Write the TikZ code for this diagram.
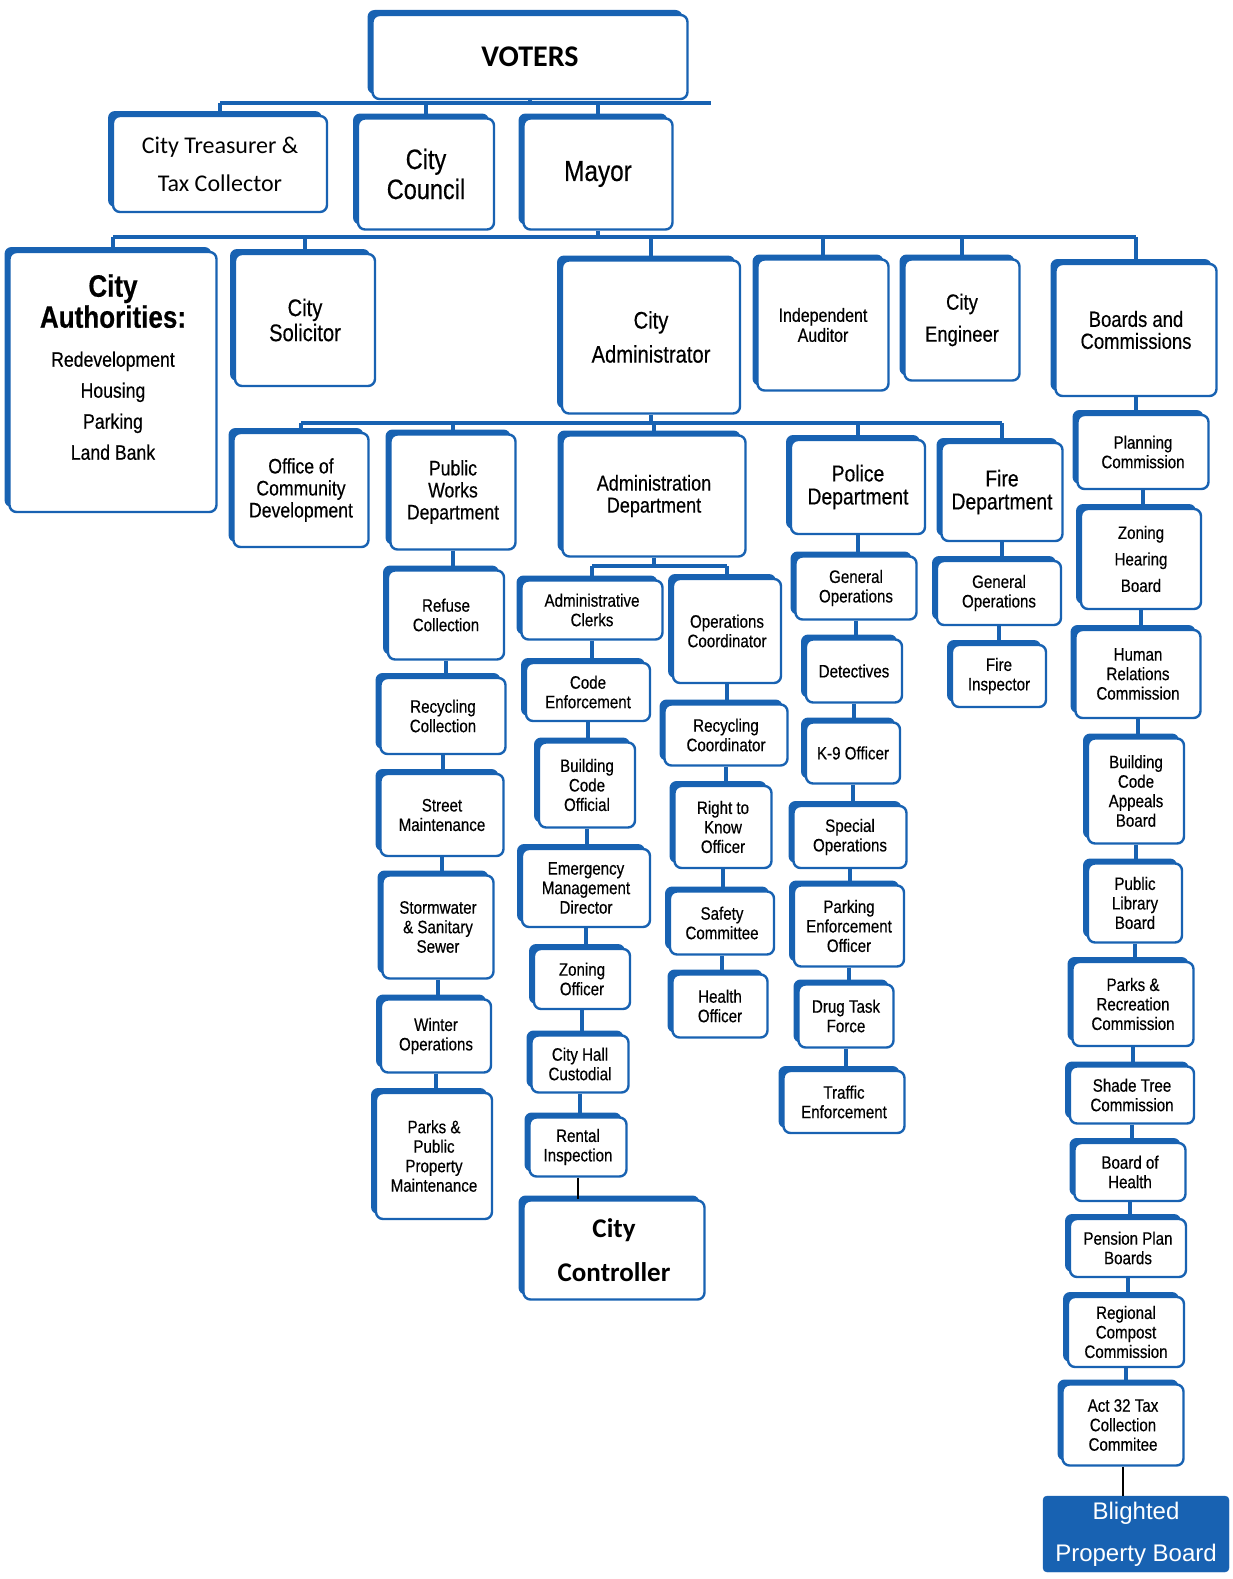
\documentclass[tikz,border=0pt]{standalone}
\usepackage{fontspec}
\setmainfont{Liberation Sans}[FakeStretch=0.84,FakeBold=0.4]
\newfontfamily\calib{Carlito}
\newfontfamily\arialplain{Liberation Sans}
\usetikzlibrary{shadows}
\definecolor{orgblue}{RGB}{24,98,178}
\tikzset{
  box/.style={draw=orgblue, line width=2.4pt, rounded corners=7pt, fill=white, align=center, inner sep=1pt,
    general shadow={fill=orgblue, shadow xshift=-5pt, shadow yshift=5pt}},
  wh/.style 2 args={minimum width=#1pt, minimum height=#2pt},
  sm/.style={font=\fontsize{18}{19.5}\selectfont},
  link/.style={draw=orgblue, line width=4.5pt},
  blink/.style={draw=black, line width=2pt},
}
\begin{document}
\begin{tikzpicture}[x=1pt,y=-1pt]
\useasboundingbox (0,0) rectangle (1233,1579);

\node[box, wh={315}{84}, font=\calib\bfseries\fontsize{30}{32}\selectfont] (voters) at (530,57) {VOTERS};

\node[box, wh={214}{96}, font=\calib\fontsize{24}{38}\selectfont] (treasurer) at (220,164) {City Treasurer \&\\Tax Collector};
\node[box, wh={136}{111}, font=\fontsize{28}{30}\selectfont] (council) at (426,174) {City\\Council};
\node[box, wh={149}{111}, font=\fontsize{29}{31}\selectfont] (mayor) at (598,174) {Mayor};

\node[box, wh={207}{260}, text depth=30pt, font=\fontsize{21}{31}\selectfont] (authorities) at (113,382)
  {{\fontsize{31}{33}\selectfont\bfseries City}\\{\fontsize{31}{33}\selectfont\bfseries Authorities:}\\[8pt]Redevelopment\\Housing\\Parking\\Land Bank};
\node[box, wh={140}{132}, font=\fontsize{24}{25}\selectfont] (solicitor) at (305,320) {City\\Solicitor};
\node[box, wh={178}{153}, font=\fontsize{24}{34}\selectfont] (administrator) at (651,337) {City\\Administrator};
\node[box, wh={131}{131}, font=\fontsize{19}{20}\selectfont] (auditor) at (823,325) {Independent\\Auditor};
\node[box, wh={115}{121}, font=\fontsize{22}{32}\selectfont] (engineer) at (962,320) {City\\Engineer};
\node[box, wh={161}{132}, font=\fontsize{22}{22}\selectfont] (boards) at (1136,330) {Boards and\\Commissions};

\node[box, wh={135}{114}, font=\fontsize{21}{22}\selectfont] (ocd) at (301,490) {Office of\\Community\\Development};
\node[box, wh={125}{115}, font=\fontsize{21}{22}\selectfont] (publicworks) at (453,492) {Public\\Works\\Department};
\node[box, wh={183}{121}, font=\fontsize{21.5}{22}\selectfont] (admindept) at (654,496) {Administration\\Department};
\node[box, wh={134}{94}, font=\fontsize{23}{23}\selectfont] (police) at (858,487) {Police\\Department};
\node[box, wh={121}{98}, font=\fontsize{23}{23}\selectfont] (fire) at (1002,492) {Fire\\Department};

% administration
\node[box, sm, wh={141}{59}] (clerks) at (592,610) {Administrative\\Clerks};
\node[box, sm, wh={124}{58}] (codeenf) at (588,692) {Code\\Enforcement};
\node[box, sm, wh={96}{85}] (buildcode) at (587,785) {Building\\Code\\Official};
\node[box, sm, wh={128}{78}] (emergency) at (586,888) {Emergency\\Management\\Director};
\node[box, sm, wh={96}{60}] (zoningoff) at (582,979) {Zoning\\Officer};
\node[box, sm, wh={97}{57}] (custodial) at (580,1064) {City Hall\\Custodial};
\node[box, sm, wh={97}{59}] (rental) at (578,1147) {Rental\\Inspection};
\node[box, wh={181}{99}, font=\calib\bfseries\fontsize{27}{44}\selectfont] (controller) at (614,1250) {City\\Controller};

\node[box, sm, wh={108}{104}] (opscoord) at (727,631) {Operations\\Coordinator};
\node[box, sm, wh={123}{61}] (recyccoord) at (726,735) {Recycling\\Coordinator};
\node[box, sm, wh={97}{82}] (righttoknow) at (723,827) {Right to\\Know\\Officer};
\node[box, sm, wh={104}{63}] (safety) at (722,923) {Safety\\Committee};
\node[box, sm, wh={95}{63}] (health) at (720,1006) {Health\\Officer};

% public works
\node[box, sm, wh={116}{89}] (refuse) at (446,615) {Refuse\\Collection};
\node[box, sm, wh={125}{76}] (recyccoll) at (443,716) {Recycling\\Collection};
\node[box, sm, wh={123}{82}] (street) at (442,815) {Street\\Maintenance};
\node[box, sm, wh={111}{103}] (storm) at (438,927) {Stormwater\\\& Sanitary\\Sewer};
\node[box, sm, wh={110}{73}] (winter) at (436,1036) {Winter\\Operations};
\node[box, sm, wh={116}{126}] (parkspub) at (434,1156) {Parks \&\\Public\\Property\\Maintenance};

% police
\node[box, sm, wh={121}{63}] (pgenops) at (856,588) {General\\Operations};
\node[box, sm, wh={96}{63}] (detectives) at (854,671) {Detectives};
\node[box, sm, wh={94}{61}] (k9) at (853,753) {K-9 Officer};
\node[box, sm, wh={113}{62}] (specops) at (850,837) {Special\\Operations};
\node[box, sm, wh={110}{81}] (parking) at (849,926) {Parking\\Enforcement\\Officer};
\node[box, sm, wh={95}{63}] (drug) at (846,1016) {Drug Task\\Force};
\node[box, sm, wh={121}{62}] (traffic) at (844,1102) {Traffic\\Enforcement};

% fire
\node[box, sm, wh={124}{64}] (fgenops) at (999,593) {General\\Operations};
\node[box, sm, wh={94}{62}] (fireinsp) at (999,676) {Fire\\Inspector};

% boards and commissions
\node[box, sm, wh={131}{74}] (planning) at (1143,452) {Planning\\Commission};
\node[box, sm, wh={120}{100}] (zoninghb) at (1141,559) {Zoning\\[7pt]Hearing\\[7pt]Board};
\node[box, sm, wh={125}{88}] (humanrel) at (1138,674) {Human\\Relations\\Commission};
\node[box, sm, wh={96}{105}] (codeappeals) at (1136,791) {Building\\Code\\Appeals\\Board};
\node[box, sm, wh={94}{79}] (library) at (1135,903) {Public\\Library\\Board};
\node[box, sm, wh={121}{84}] (parksrec) at (1133,1004) {Parks \&\\Recreation\\Commission};
\node[box, sm, wh={124}{57}] (shadetree) at (1132,1095) {Shade Tree\\Commission};
\node[box, sm, wh={111}{58}] (boardhealth) at (1130,1172) {Board of\\Health};
\node[box, sm, wh={116}{58}] (pension) at (1128,1248) {Pension Plan\\Boards};
\node[box, sm, wh={116}{70}] (compost) at (1126,1332) {Regional\\Compost\\Commission};
\node[box, sm, wh={121}{81}] (act32) at (1123,1425) {Act 32 Tax\\Collection\\Commitee};
\node[draw=orgblue, fill=orgblue, rounded corners=4pt, wh={186}{76}, align=center, text=white,
  font=\arialplain\fontsize{24}{42}\selectfont] (blighted) at (1136,1534) {Blighted\\Property Board};

% bus bars
\coordinate (bar1) at (0,103);
\coordinate (bar2) at (0,237);
\coordinate (bar3) at (0,423);
\coordinate (bar4) at (0,566);

\draw[link] (treasurer.north |- bar1) -- (711,103);
\draw[link] (voters.south) -- (voters.south |- bar1);
\foreach \n in {treasurer,council,mayor}
  \draw[link] (\n.north) -- (\n.north |- bar1);

\draw[link] (authorities.north |- bar2) -- (boards.north |- bar2);
\draw[link] (mayor.south) -- (mayor.south |- bar2);
\foreach \n in {authorities,solicitor,administrator,auditor,engineer,boards}
  \draw[link] (\n.north) -- (\n.north |- bar2);

\draw[link] (ocd.north |- bar3) -- (fire.north |- bar3);
\draw[link] (administrator.south) -- (administrator.south |- bar3);
\foreach \n in {ocd,publicworks,admindept,police,fire}
  \draw[link] (\n.north) -- (\n.north |- bar3);

\draw[link] (clerks.north |- bar4) -- (opscoord.north |- bar4);
\draw[link] (admindept.south) -- (admindept.south |- bar4);
\foreach \n in {clerks,opscoord}
  \draw[link] (\n.north) -- (\n.north |- bar4);

% columns
\foreach \a/\b in {clerks/codeenf,codeenf/buildcode,buildcode/emergency,emergency/zoningoff,zoningoff/custodial,custodial/rental,
  opscoord/recyccoord,recyccoord/righttoknow,righttoknow/safety,safety/health,
  publicworks/refuse,refuse/recyccoll,recyccoll/street,street/storm,storm/winter,winter/parkspub,
  police/pgenops,pgenops/detectives,detectives/k9,k9/specops,specops/parking,parking/drug,drug/traffic,
  fire/fgenops,fgenops/fireinsp,
  boards/planning,planning/zoninghb,zoninghb/humanrel,humanrel/codeappeals,codeappeals/library,library/parksrec,
  parksrec/shadetree,shadetree/boardhealth,boardhealth/pension,pension/compost,compost/act32}
  \draw[link] (\a.south) -- (\a.south |- \b.north);

\draw[blink] (rental.south) -- (controller.north -| rental.south);
\draw[blink] (act32.south) -- (blighted.north -| act32.south);
\end{tikzpicture}
\end{document}
